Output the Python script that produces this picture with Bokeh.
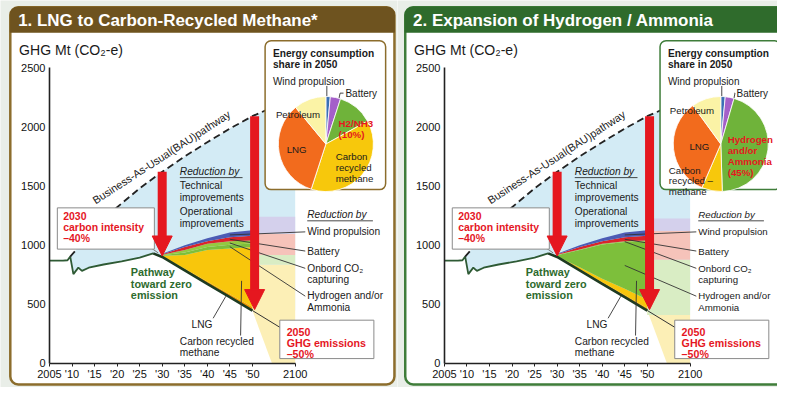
import math
from bokeh.plotting import figure
from bokeh.models import Range1d, FixedTicker, Arrow, NormalHead, ColumnDataSource
from bokeh.layouts import row
from bokeh.embed import file_html
from bokeh.resources import INLINE
from bokeh.core.properties import value

# ---------------- data ----------------
hist_years = [2005, 2008, 2009, 2009.6, 2010.3, 2011.4, 2012.2, 2013.7, 2017, 2021, 2025, 2028]
hist_vals = [868, 868, 872, 903, 755, 810, 782, 809, 836, 863, 895, 930]

bau_years = [2009.6, 2015, 2020, 2025, 2030, 2035, 2040, 2045, 2050, 2100]
bau_vals = [903, 1140, 1320, 1480, 1620, 1750, 1870, 1985, 2090, 2250]

path_years = [2028, 2030, 2035, 2040, 2045, 2050]
path_vals = [930, 900, 787, 673, 560, 447]

post_years = [2050, 2073, 2100]
post_vals = [447, 0, 0]

band_years = [2030, 2035, 2040, 2045, 2050]
# cumulative band tops, panel 1 (LNG -> carbon-recycled methane)
p1_lng = [903, 800, 692, 585, 477]
p1_crm = [910, 917, 958, 971, 985]
p1_h2 = [914, 938, 985, 1003, 1013]
p1_cc = [918, 958, 1011, 1033, 1039]
p1_bat = [922, 985, 1033, 1066, 1080]
p1_wind = [926, 998, 1058, 1106, 1126]
# cumulative band tops, panel 2 (expansion of hydrogen / ammonia)
p2_lng = [902, 795, 685, 578, 467]
p2_crm = [906, 812, 715, 630, 540]
p2_h2 = [914, 958, 1005, 1026, 1032]
p2_cc = [918, 963, 1012, 1033, 1039]
p2_bat = [922, 985, 1033, 1066, 1080]
p2_wind = [926, 998, 1058, 1106, 1126]

# after 2050 (light bands): tops of light yellow, light green, pink, lavender
p1_post_tops = [836, 917, 1096, 1240]
p2_post_tops = [410, 877, 1120, 1226]

pie_names = ["Wind propulsion", "Battery", "Hydrogen/Ammonia", "Carbon recycled methane", "LNG", "Petroleum"]
p1_shares = [1.5, 3.5, 12, 38, 34, 11]
p2_shares = [1.5, 3, 45, 7, 33.5, 10]

x_tick_years = [2005, 2010, 2015, 2020, 2025, 2030, 2035, 2040, 2045, 2050, 2100]
x_tick_labels = ["2005", "'10", "'15", "'20", "'25", "'30", "'35", "'40", "'45", "'50", "2100"]
y_ticks = [0, 500, 1000, 1500, 2000, 2500]

# ---------------- styling ----------------
FONT = "Liberation Sans"
RED = "#e5171f"
TXT = "#1a1a1a"
BAND_COLS = ["#f29a00", "#f8c60c", "#7dbf3b", "#94c940", "#d9252b", "#4c5cb5"]
POST_COLS = ["#fcefb6", "#d9edc4", "#f6c3ba", "#d4d0ec"]
BLUE = "#d3ebf5"
PIE_COLS = ["#3a6fb5", "#a45fc9", "#6fb33a", "#f7c80c", "#f26b1d", "#fbf3a6"]

SX = 0.98          # horizontal squeeze of the 793 px layout into 777 px
SY = 0.96          # vertical squeeze of the 403 px layout into 387 px
FS = 0.97          # font squeeze
PX_YR = 4.6 * SX
H = 387
FIG_LEFT = [0, 397]
FIG_W = [397, 380]
SHIFT = [0, 403]


def xp(y):
    return y if y <= 2050 else 2050 + (y - 2050) * 0.19


def build(k):
    fl, W, sh = FIG_LEFT[k - 1], FIG_W[k - 1], SHIFT[k - 1]

    def lx(r):
        return (r + sh) * SX - fl

    xs = 2005 - lx(50) / PX_YR

    def X(r):
        return xs + lx(r) / PX_YR

    def Y(ry):
        return (378 - ry) / 0.1232

    p = figure(width=W, height=H, x_range=Range1d(xs, xs + W / PX_YR),
               y_range=Range1d(Y(H / SY), Y(0)), output_backend="svg",
               toolbar_location=None, min_border=0, outline_line_color=None,
               background_fill_color="#e9eee8", border_fill_color="#e9eee8")
    p.xgrid.visible = False
    p.ygrid.visible = False

    def T(x, y, s, size=10.5, color=TXT, style="normal", align="left",
          baseline="top", angle=0, lh=1.12):
        p.text(x=[x], y=[y], text=[s], text_font=value(FONT),
               text_font_size=f"{size * FS:.2f}px", text_color=color,
               text_font_style=style, text_align=align,
               text_baseline=baseline, angle=angle, text_line_height=lh)

    def L(xv, yv, color="#333333", w=0.9):
        p.line(x=xv, y=yv, line_color=color, line_width=w)

    title = ["1. LNG to Carbon-Recycled Methane*", "2. Expansion of Hydrogen / Ammonia"][k - 1]
    tcol = ["#6e531f", "#2f6b2c"][k - 1]
    fcol = ["#8c6d2c", "#3f7d3a"][k - 1]
    lng, crm, h2, cc, bat, wind = ([p1_lng, p1_crm, p1_h2, p1_cc, p1_bat, p1_wind] if k == 1
                                  else [p2_lng, p2_crm, p2_h2, p2_cc, p2_bat, p2_wind])
    post_tops = p1_post_tops if k == 1 else p2_post_tops
    shares = p1_shares if k == 1 else p2_shares
    rdx = 0 if k == 1 else -4   # keep right-edge labels of panel 2 inside

    # panel
    p.quad(left=X(10), right=X(402), top=Y(7), bottom=Y(400), fill_color="white",
           line_color=fcol, line_width=2.5, border_radius=8)
    p.quad(left=X(10), right=X(402), top=Y(7), bottom=Y(33), fill_color=tcol,
           line_color=tcol, line_width=1, border_radius=(7, 7, 0, 0))
    T(X(18), Y(20.5), title, size=17.5, color="white", style="bold", baseline="middle")
    T(X(19), Y(52), "GHG Mt (CO\u2082-e)", size=14.5, baseline="middle")

    # blue BAU reduction area
    top_x = [xp(y) for y in bau_years]
    bot = [(y, v) for y, v in zip(hist_years, hist_vals) if y >= bau_years[0]]
    bot += list(zip(path_years[1:], path_vals[1:])) + [(2100, path_vals[-1])]
    bx = [xp(y) for y, _ in bot]
    by = [v for _, v in bot]
    p.patch(x=top_x + bx[::-1], y=bau_vals + by[::-1], fill_color=BLUE, line_color=None)

    # post-2050 light bands
    px_ = [xp(y) for y in post_years]
    lows = post_vals
    for top, col in zip(post_tops, POST_COLS):
        p.varea(x=px_, y1=lows, y2=[top] * len(px_), fill_color=col)
        lows = [top] * len(px_)

    # 2030-2050 reduction bands
    bxs = [xp(y) for y in band_years]
    lower = path_vals[1:]
    for tops, col in zip([lng, crm, h2, cc, bat, wind], BAND_COLS):
        p.varea(x=bxs, y1=lower, y2=tops, fill_color=col)
        lower = tops

    # lines
    p.line(x=[xp(y) for y in hist_years], y=hist_vals, line_color="#2e5a34", line_width=1.8)
    p.line(x=[xp(y) for y in path_years], y=path_vals, line_color="#1e3b22", line_width=2.6)
    p.line(x=top_x, y=bau_vals, line_color="#222222", line_width=1.8, line_dash="7 4")

    # axes
    p.xaxis.fixed_location = 0
    p.yaxis.fixed_location = 2005
    p.xaxis.ticker = FixedTicker(ticks=[xp(y) for y in x_tick_years])
    p.xaxis.major_label_overrides = {xp(y): s for y, s in zip(x_tick_years, x_tick_labels)}
    p.yaxis.ticker = FixedTicker(ticks=y_ticks)
    p.xaxis.bounds = (2005, xp(2100))
    p.yaxis.bounds = (0, 2500)
    for ax in (p.xaxis, p.yaxis):
        ax.axis_line_color = "#222222"
        ax.axis_line_width = 1.6
        ax.major_tick_line_color = "#222222"
        ax.minor_tick_line_color = None
        ax.major_label_text_font = FONT
        ax.major_label_text_font_size = "11px"
        ax.major_label_text_color = "#111111"
    p.xaxis.major_tick_in = 0
    p.xaxis.major_tick_out = 3
    p.yaxis.major_tick_in = 0
    p.yaxis.major_tick_out = 0
    p.xaxis.major_label_standoff = 2
    p.yaxis.major_label_standoff = 4

    # BAU label
    T(X(95), Y(209), "Business-As-Usual(BAU)pathway", size=11.2, baseline="alphabetic",
      angle=math.radians(33))

    # reduction texts (left)
    T(X(183), Y(178), "Reduction by", style="italic", baseline="middle")
    L([X(183), X(247)], [Y(184.5), Y(184.5)], TXT, 0.8)
    T(X(183), Y(187), "Technical\nimprovements", lh=1.08)
    T(X(183), Y(214), "Operational\nimprovements", lh=1.08)

    # 2030 box
    L([X(154), X(161)], [Y(258), Y(263)], "#777777", 1)
    p.quad(left=X(58), right=X(157), top=Y(216), bottom=Y(259), fill_color="white",
           line_color="#8a8a8a", line_width=1)
    T(X(64), Y(219), "2030\ncarbon intensity\n\u201340%", size=10.8, color=RED, style="bold", lh=1.0)

    # pathway text
    T(X(133), Y(277), "Pathway\ntoward zero\nemission", size=11.2, color="#2d6b2e",
      style="bold", lh=0.95)

    # LNG / CRM labels
    L([X(217), X(230)], [Y(331), Y(308)], "#333333", 0.9)
    T(X(195), Y(337), "LNG", baseline="middle")
    L([X(245), X(246)], [Y(349), Y(292)], "#333333", 0.9)
    T(X(183), Y(349), "Carbon recycled\nmethane", lh=1.0)

    # 2050 box
    L([xp(2050), X(286)], [path_vals[-1], Y(341)], "#333333", 1)
    p.quad(left=X(285), right=X(381), top=Y(333), bottom=Y(373), fill_color="white",
           line_color="#8a8a8a", line_width=1)
    T(X(292), Y(339), "2050\nGHG emissions\n\u201350%", size=11, color=RED, style="bold", lh=0.93)

    # right labels with leaders into the bands (at 2045)
    i = band_years.index(2045)
    mids = [(bat[i] + wind[i]) / 2, (cc[i] + bat[i]) / 2, (h2[i] + cc[i]) / 2, (crm[i] + h2[i]) / 2]
    lab_y = [241, 261, 279, 308]
    rs = 10.5 if k == 1 else 10.0
    for m, ly in zip(mids, lab_y):
        L([xp(2045), X(311 + rdx)], [m, Y(ly)], "#333333", 0.9)
    T(X(313 + rdx), Y(223), "Reduction by", size=rs, style="italic", baseline="middle")
    L([X(313 + rdx), X(380 + rdx)], [Y(229.5), Y(229.5)], TXT, 0.8)
    T(X(313 + rdx), Y(241), "Wind propulsion", size=rs, baseline="middle")
    T(X(313 + rdx), Y(261), "Battery", size=rs, baseline="middle")
    T(X(313 + rdx), Y(273), "Onbord CO\u2082\ncapturing", size=rs, lh=1.02)
    T(X(313 + rdx), Y(302), "Hydrogen and/or\nAmmonia", size=rs, lh=1.02)

    # pie box
    p.quad(left=X(270), right=X(393), top=Y(42), bottom=Y(197), fill_color="white",
           line_color=fcol, line_width=1.5, border_radius=6)
    T(X(278), Y(49), "Energy consumption\nshare in 2050", size=10.5, style="bold", lh=1.08)
    T(X(278), Y(84), "Wind propulsion", size=10.3, baseline="middle")
    T(X(352 + rdx), Y(97), "Battery", size=10.3, baseline="middle")
    L([X(333), X(333)], [Y(89), Y(103)], "#333333", 0.9)
    L([X(350 + rdx), X(346.5), X(345)], [Y(96.5), Y(96.5), Y(104)], "#333333", 0.9)
    starts, ends = [], []
    cum = 0
    for s in shares:
        starts.append(math.pi / 2 - cum / 100 * 2 * math.pi)
        cum += s
        ends.append(math.pi / 2 - cum / 100 * 2 * math.pi)
    src = ColumnDataSource(dict(name=pie_names, share=shares, start=starts, end=ends, color=PIE_COLS))
    p.wedge(x=X(332), y=Y(149.5), radius=47.5, radius_units="screen", start_angle="start",
            end_angle="end", direction="clock", fill_color="color", line_color="white",
            line_width=0.8, source=src)
    if k == 1:
        T(X(281), Y(119), "Petroleum", size=10, baseline="middle")
        T(X(292), Y(155), "LNG", size=10, baseline="middle")
        T(X(345), Y(122), "H2/NH3\n(10%)", size=10, color=RED, style="bold", lh=1.05)
        T(X(342), Y(157), "Carbon\nrecycled\nmethane", size=10, lh=0.98)
    else:
        T(X(280), Y(115), "Petroleum", size=10, baseline="middle")
        T(X(300), Y(152), "LNG", size=10, baseline="middle")
        T(X(279), Y(171), "Carbon\nrecycled \u2013\nmethane", size=10, lh=0.98)
        T(X(339), Y(139), "Hydrogen\nand/or\nAmmonia\n(45%)", size=10, color=RED, style="bold", lh=1.0)

    # red arrows
    bau_d = dict(zip(bau_years, bau_vals))
    path_d = dict(zip(path_years, path_vals))
    for yr, xo in ((2030, 0.0), (2050, 0.5)):
        p.add_layout(Arrow(end=NormalHead(size=20, fill_color=RED, line_color=RED, line_width=1),
                           x_start=xp(yr) + xo, y_start=bau_d[yr], x_end=xp(yr) + xo,
                           y_end=path_d[yr] + 8, line_color=RED, line_width=9))
    return p


layout = row(build(1), build(2))
open("out.html", "w").write(file_html(layout, INLINE))
